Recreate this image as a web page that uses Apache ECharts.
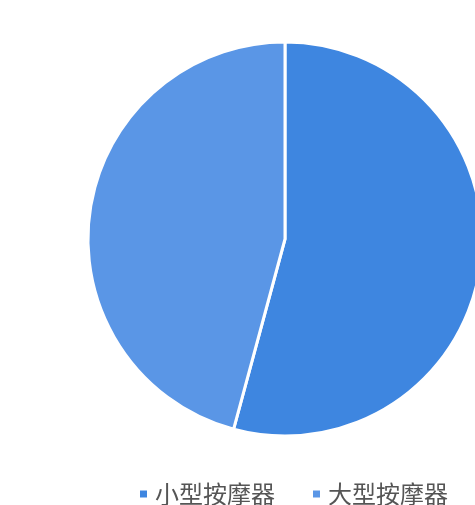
<!DOCTYPE html>
<html>
<head>
<meta charset="utf-8">
<script src="https://cdn.jsdelivr.net/npm/echarts@6/dist/echarts.min.js"></script>
<style>
html,body{margin:0;padding:0;background:#fff;}
#c{width:475px;height:505px;}
</style>
</head>
<body>
<div id="c"></div>
<script>
const categories = ['小型按摩器', '大型按摩器'];
const values = [54.2, 45.8];
const colors = ['#3e86e0', '#5a96e6'];

const chart = echarts.init(document.getElementById('c'));
chart.setOption({
  backgroundColor: '#ffffff',
  animation: false,
  color: colors,
  legend: {
    top: 477,
    left: 133,
    itemWidth: 9,
    itemHeight: 9,
    itemGap: 36,
    icon: 'rect',
    textStyle: {
      fontFamily: 'Noto Sans CJK SC',
      fontSize: 24,
      color: '#555555',
      padding: [0, 0, 0, 2]
    },
    data: categories
  },
  series: [{
    type: 'pie',
    center: [285, 239],
    radius: 197,
    startAngle: 90,
    clockwise: true,
    label: { show: false },
    labelLine: { show: false },
    itemStyle: { borderColor: '#ffffff', borderWidth: 3 },
    emphasis: { disabled: true },
    data: categories.map((n, i) => ({ name: n, value: values[i] }))
  }]
});
</script>
</body>
</html>
